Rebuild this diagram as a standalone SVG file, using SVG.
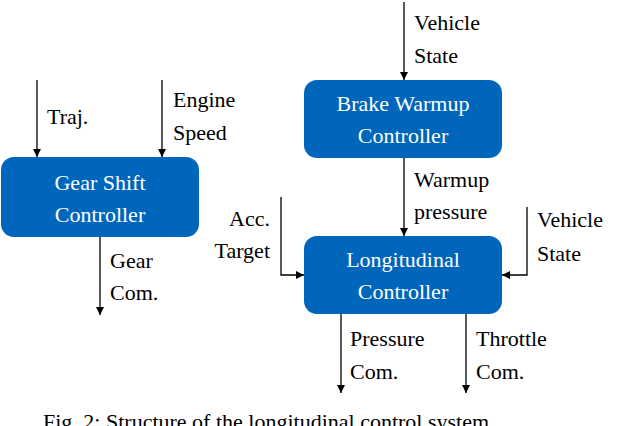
<svg xmlns="http://www.w3.org/2000/svg" width="620" height="426" viewBox="0 0 620 426" font-family="'Liberation Serif','Times New Roman',serif">
<style>
text{font-family:'Liberation Serif','Times New Roman',serif;font-size:22px;fill:#000}
.b{fill:#0066BB}
.w{fill:#fff;text-anchor:middle}
.c{stroke:#000;stroke-width:1.3;fill:none;marker-end:url(#a)}
</style>
<defs><marker id="a" viewBox="0 0 10 10" refX="10" refY="5" markerWidth="8" markerHeight="8" markerUnits="userSpaceOnUse" orient="auto"><path d="M0,0L10,5L0,10z" fill="#000"/></marker></defs>
<rect width="620" height="426" fill="#fff"/>
<g id="connectors">
<path class="c" d="M37,80V157"/>
<path class="c" d="M162,80V157"/>
<path class="c" d="M404,2V80"/>
<path class="c" d="M404,158V236"/>
<path class="c" d="M100,237V315"/>
<path class="c" d="M281,197V275H304"/>
<path class="c" d="M527,207V275H502"/>
<path class="c" d="M341,314V393"/>
<path class="c" d="M466,314V393"/>
</g>
<g id="gear"><rect class="b" x="1" y="157" width="198" height="80" rx="13"/><text class="w" x="100" y="190">Gear Shift</text><text class="w" x="100" y="222">Controller</text></g>
<g id="brake"><rect class="b" x="304" y="80" width="198" height="78" rx="13"/><text class="w" x="403" y="111">Brake Warmup</text><text class="w" x="403" y="143">Controller</text></g>
<g id="long"><rect class="b" x="304" y="236" width="198" height="78" rx="13"/><text class="w" x="403" y="267">Longitudinal</text><text class="w" x="403" y="299">Controller</text></g>
<g id="labels">
<text x="47" y="124">Traj.</text>
<text x="173" y="107">Engine</text><text x="173" y="140">Speed</text>
<text x="414" y="30">Vehicle</text><text x="414" y="63">State</text>
<text x="414" y="187">Warmup</text><text x="414" y="219">pressure</text>
<text x="270" y="226" text-anchor="end">Acc.</text><text x="270" y="258" text-anchor="end">Target</text>
<text x="537" y="227">Vehicle</text><text x="537" y="261">State</text>
<text x="110" y="268">Gear</text><text x="110" y="300">Com.</text>
<text x="350" y="346">Pressure</text><text x="350" y="379">Com.</text>
<text x="476" y="346">Throttle</text><text x="476" y="379">Com.</text>
<text x="43" y="429">Fig. 2: Structure of the longitudinal control system</text>
</g>
</svg>
